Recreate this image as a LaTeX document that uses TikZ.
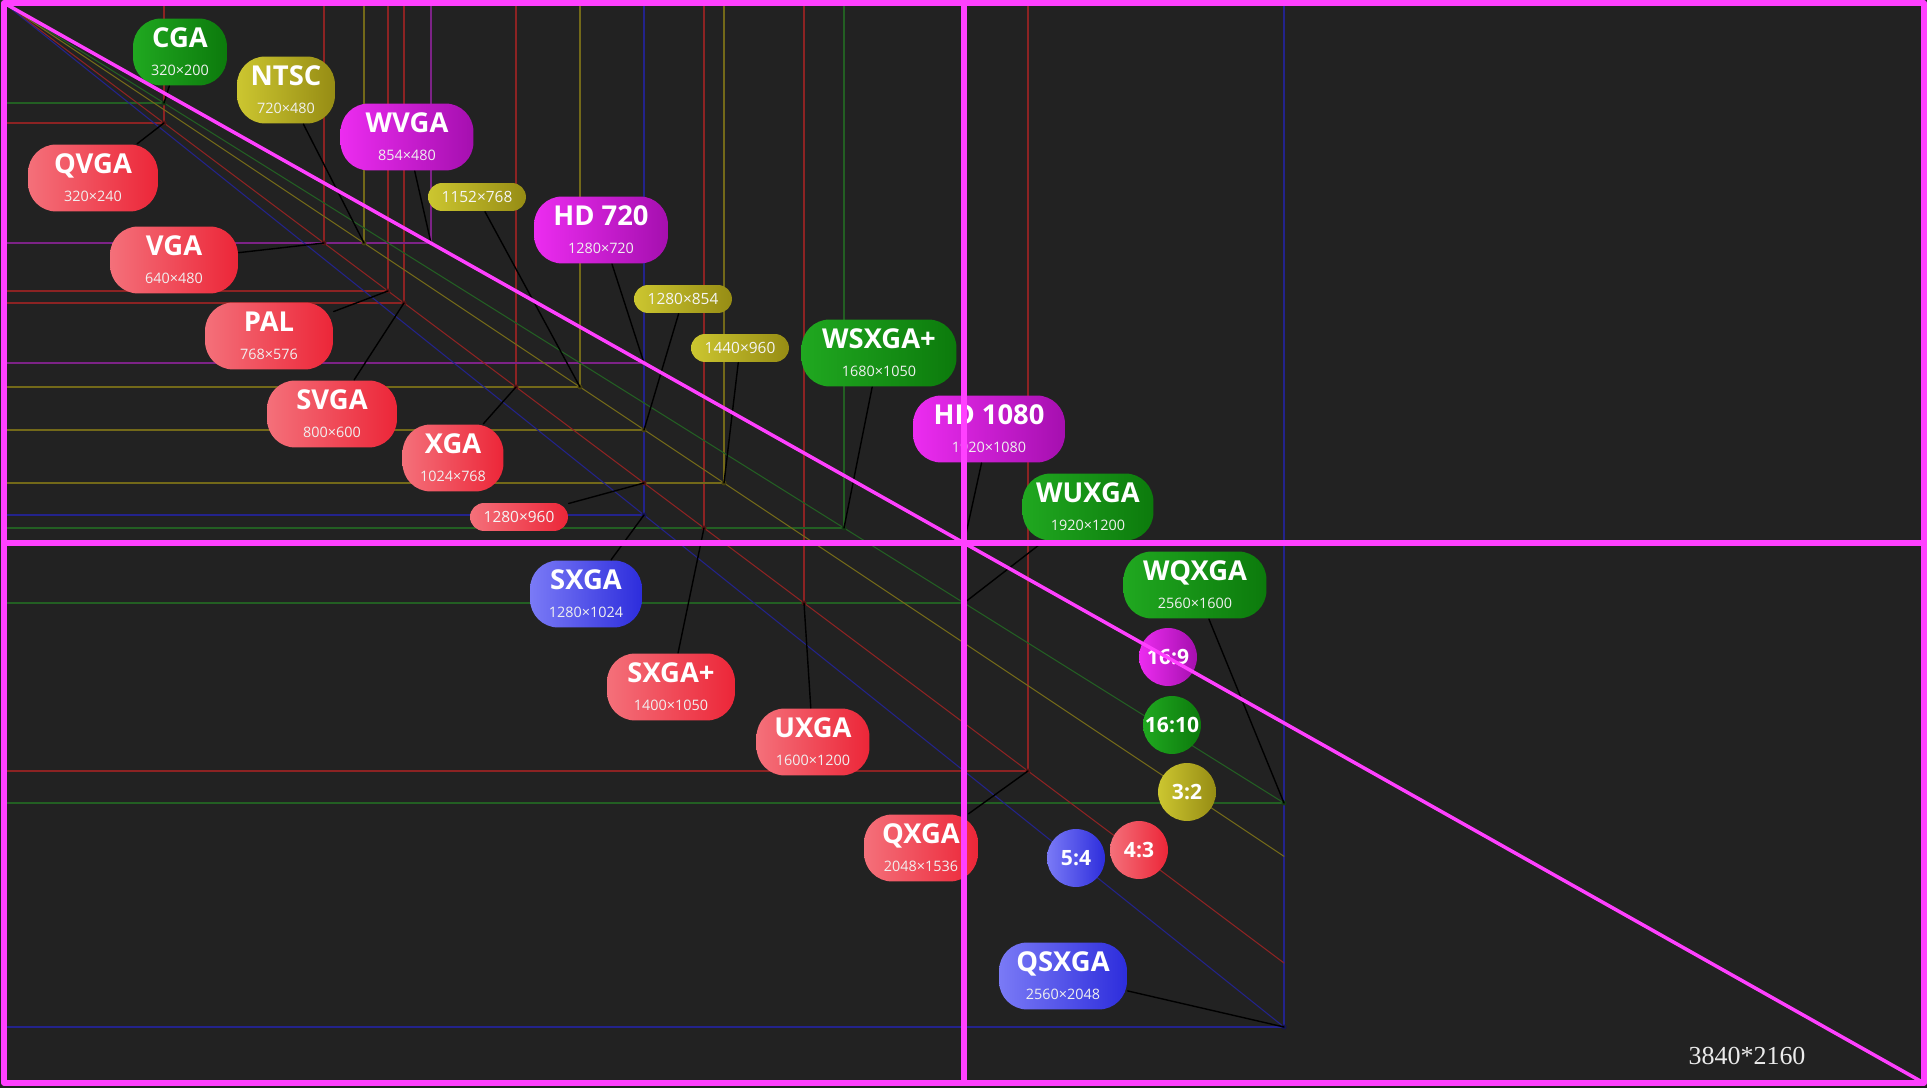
\documentclass[tikz,border=0pt]{standalone}
\usepackage{fontspec}
\setsansfont{Open Sans}
\newfontfamily\uhdfont{Liberation Serif}
\usetikzlibrary{shapes.misc}
\definecolor{bg}{RGB}{34,34,34}
\definecolor{uhd}{RGB}{255,64,255}
\definecolor{lnred}{RGB}{140,35,35}
\definecolor{lngreen}{RGB}{35,95,35}
\definecolor{lnyellow}{RGB}{115,105,25}
\definecolor{lnmag}{RGB}{125,35,135}
\definecolor{lnblue}{RGB}{35,35,140}
\newcommand\subres[1]{{\mdseries\fontsize{4.1}{5}\selectfont\color{white!88!gray}#1}}
\tikzset{
  res/.style={line width=0.3pt},
  leader/.style={line width=0.4pt, black},
  tag/.style={rounded corners=8pt, minimum height=0.67cm, inner sep=0pt, align=center,
    text=white, font=\sffamily\bfseries\fontsize{7.8}{8}\selectfont},
  pill/.style={rounded corners=4pt, minimum height=0.28cm, minimum width=0.98cm, inner sep=0pt,
    text=white!92!gray, font=\sffamily\fontsize{4.4}{5}\selectfont},
  ratio/.style={circle, minimum size=0.58cm, inner sep=0pt, text=white,
    font=\sffamily\bfseries\fontsize{6}{7}\selectfont},
  redtag/.style={left color={rgb,255:red,244;green,112;blue,122}, right color={rgb,255:red,236;green,38;blue,56}},
  greentag/.style={left color={rgb,255:red,32;green,168;blue,32}, right color={rgb,255:red,12;green,122;blue,12}},
  magtag/.style={left color={rgb,255:red,236;green,44;blue,240}, right color={rgb,255:red,165;green,15;blue,175}},
  yellowtag/.style={left color={rgb,255:red,204;green,198;blue,48}, right color={rgb,255:red,150;green,140;blue,20}},
  bluetag/.style={left color={rgb,255:red,122;green,122;blue,246}, right color={rgb,255:red,45;green,45;blue,220}},
}
\begin{document}
\begin{tikzpicture}[x=0.005cm, y=-0.005cm, line join=round, line cap=round]
  \fill[bg] (-8,-6) rectangle (3846,2170);
  \useasboundingbox (-8,-6) rectangle (3846,2170);
  \foreach \w/\h/\c in {320/200/lngreen, 320/240/lnred, 640/480/lnred, 720/480/lnyellow,
      768/576/lnred, 800/600/lnred, 854/480/lnmag, 1024/768/lnred, 1152/768/lnyellow,
      1280/720/lnmag, 1280/854/lnyellow, 1280/960/lnred, 1280/1024/lnblue, 1400/1050/lnred,
      1440/960/lnyellow, 1600/1200/lnred, 1680/1050/lngreen, 1920/1080/lnmag,
      1920/1200/lngreen, 2048/1536/lnred, 2560/1600/lngreen, 2560/2048/lnblue}{
    \draw[res, \c] (0,\h) -- (\w,\h) -- (\w,0);
    \coordinate (c\w-\h) at (\w,\h);
  }
  \foreach \h/\c in {1440/lnmag, 1600/lngreen, 1706.7/lnyellow, 1920/lnred, 2048/lnblue}
    \draw[res, \c] (0,0) -- (2560,\h);
  \foreach \w/\h/\c in {320/200/lngreen, 320/240/lnred, 640/480/lnred, 720/480/lnyellow,
      768/576/lnred, 800/600/lnred, 854/480/lnmag, 1024/768/lnred, 1152/768/lnyellow,
      1280/720/lnmag, 1280/854/lnyellow, 1280/960/lnred, 1280/1024/lnblue, 1400/1050/lnred,
      1440/960/lnyellow, 1600/1200/lnred, 1680/1050/lngreen, 1920/1080/lnmag,
      1920/1200/lngreen, 2048/1536/lnred, 2560/1600/lngreen, 2560/2048/lnblue}
    \fill[\c!60!black] (c\w-\h) circle (5);

  \node[tag, greentag, minimum width=0.94cm] (cga) at (352,98) {CGA\\\subres{320×200}};
  \node[tag, yellowtag, minimum width=0.98cm] (ntsc) at (564,174) {NTSC\\\subres{720×480}};
  \node[tag, magtag, minimum width=1.33cm] (wvga) at (806,268) {WVGA\\\subres{854×480}};
  \node[tag, redtag, minimum width=1.30cm] (qvga) at (178,350) {QVGA\\\subres{320×240}};
  \node[pill, yellowtag] (w1152) at (946,388) {1152×768};
  \node[tag, magtag, minimum width=1.34cm] (hd720) at (1194,454) {HD 720\\\subres{1280×720}};
  \node[tag, redtag, minimum width=1.28cm] (vga) at (340,514) {VGA\\\subres{640×480}};
  \node[tag, redtag, minimum width=1.28cm] (pal) at (530,666) {PAL\\\subres{768×576}};
  \node[pill, yellowtag] (w1280) at (1358,592) {1280×854};
  \node[pill, yellowtag] (w1440) at (1472,690) {1440×960};
  \node[tag, greentag, minimum width=1.55cm] (wsxgap) at (1750,700) {WSXGA+\\\subres{1680×1050}};
  \node[tag, redtag, minimum width=1.30cm] (svga) at (656,822) {SVGA\\\subres{800×600}};
  \node[tag, redtag, minimum width=1.01cm] (xga) at (898,910) {XGA\\\subres{1024×768}};
  \node[tag, magtag, minimum width=1.52cm] (hd1080) at (1970,852) {HD 1080\\\subres{1920×1080}};
  \node[tag, greentag, minimum width=1.31cm] (wuxga) at (2168,1008) {WUXGA\\\subres{1920×1200}};
  \node[pill, redtag] (r1280) at (1030,1028) {1280×960};
  \node[tag, bluetag, minimum width=1.12cm] (sxga) at (1164,1182) {SXGA\\\subres{1280×1024}};
  \node[tag, greentag, minimum width=1.43cm] (wqxga) at (2382,1164) {WQXGA\\\subres{2560×1600}};
  \node[tag, redtag, minimum width=1.28cm] (sxgap) at (1334,1368) {SXGA+\\\subres{1400×1050}};
  \node[tag, redtag, minimum width=1.13cm] (uxga) at (1618,1478) {UXGA\\\subres{1600×1200}};
  \node[tag, redtag, minimum width=1.14cm] (qxga) at (1834,1690) {QXGA\\\subres{2048×1536}};
  \node[tag, bluetag, minimum width=1.28cm] (qsxga) at (2118,1946) {QSXGA\\\subres{2560×2048}};

  \node[ratio, magtag] (r169) at (2328,1308) {16:9};
  \node[ratio, greentag] (r1610) at (2336,1444) {16:10};
  \node[ratio, yellowtag] (r32) at (2366,1578) {3:2};
  \node[ratio, redtag] (r43) at (2270,1694) {4:3};
  \node[ratio, bluetag] (r54) at (2144,1710) {5:4};

  \draw[leader] (cga) -- (c320-200);
  \draw[leader] (ntsc) -- (c720-480);
  \draw[leader] (wvga) -- (c854-480);
  \draw[leader] (qvga) -- (c320-240);
  \draw[leader] (w1152) -- (c1152-768);
  \draw[leader] (hd720) -- (c1280-720);
  \draw[leader] (vga) -- (c640-480);
  \draw[leader] (pal) -- (c768-576);
  \draw[leader] (w1280) -- (c1280-854);
  \draw[leader] (w1440) -- (c1440-960);
  \draw[leader] (wsxgap) -- (c1680-1050);
  \draw[leader] (svga) -- (c800-600);
  \draw[leader] (xga) -- (c1024-768);
  \draw[leader] (hd1080) -- (c1920-1080);
  \draw[leader] (wuxga) -- (c1920-1200);
  \draw[leader] (r1280) -- (c1280-960);
  \draw[leader] (sxga) -- (c1280-1024);
  \draw[leader] (wqxga) -- (c2560-1600);
  \draw[leader] (sxgap) -- (c1400-1050);
  \draw[leader] (uxga) -- (c1600-1200);
  \draw[leader] (qxga) -- (c2048-1536);
  \draw[leader] (qsxga) -- (c2560-2048);

  \draw[uhd, line width=1.6pt] (0,0) rectangle (3840,2160);
  \draw[uhd, line width=1.5pt] (1920,0) -- (1920,2160) (0,1080) -- (3840,1080);
  \draw[uhd, line width=1pt] (0,0) -- (3840,2160);
  \node[text=white!92!black, font=\uhdfont\fontsize{7.4}{8}\selectfont] (uhdsize) at (3486,2106) {3840*2160};
\end{tikzpicture}
\end{document}
